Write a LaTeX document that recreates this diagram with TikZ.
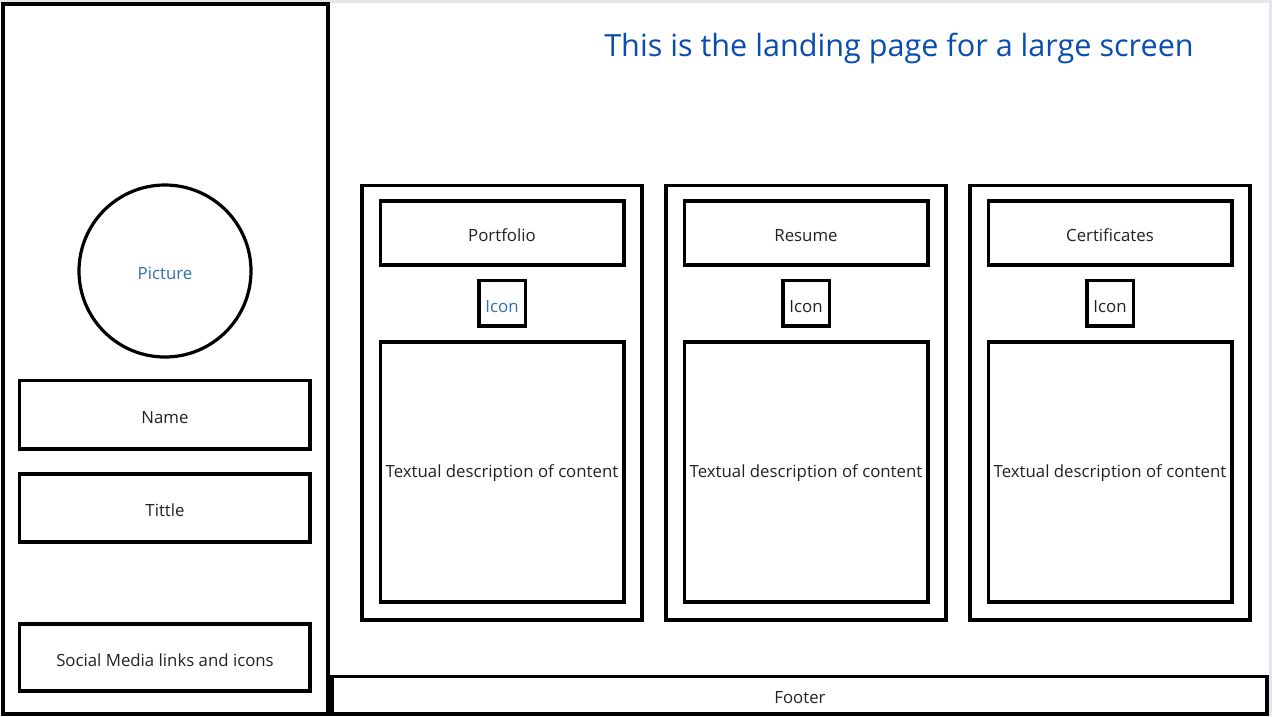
\documentclass[tikz,border=0pt]{standalone}
\usepackage{fontspec}
\setmainfont{Open Sans}
\definecolor{titleblue}{HTML}{0A4DB0}
\definecolor{labelblue}{HTML}{2F6FB5}
\definecolor{ink}{HTML}{222222}
\definecolor{frame}{HTML}{E6E6EA}
\begin{document}
\begin{tikzpicture}[x=1pt,y=-1pt,
  box/.style={draw=black,line width=3.2pt,fill=white},
  lbl/.style={font=\fontsize{16.8}{19}\selectfont,text=ink,inner sep=0pt},
  every node/.style={inner sep=0pt}]
\useasboundingbox (0,0) rectangle (1272,716);
\fill[frame] (0,0) rectangle (1272,716);
\fill[white] (0,2.5) rectangle (1268.5,716);

% sidebar
\draw[box] (3,4) rectangle (328,714);
\draw[box] (165,271) circle (86);
\node[lbl,text=labelblue] (pic) at (165,273.5) {Picture};
\draw[box] (19.5,380.5) rectangle (310,449);
\node[lbl] (name) at (165,417.5) {Name};
\draw[box] (19.5,474) rectangle (310,542);
\node[lbl] (tittle) at (165,510.5) {Tittle};
\draw[box] (19.5,624) rectangle (310,691);
\node[lbl] (social) at (165,660.5) {Social Media links and icons};

% heading
\node[font=\fontsize{30.6}{36}\selectfont,text=titleblue] (head) at (899,48) {This is the landing page for a large screen};

% three cards
\foreach \dx/\name/\icn in {0/Portfolio/labelblue,304/Resume/ink,608/Certificates/ink}{
  \begin{scope}[xshift=\dx]
    \draw[box] (362,185.5) rectangle (642,620);
    \draw[box] (380.5,201) rectangle (624,265);
    \node[lbl] at (502,235.5) {\name};
    \draw[box] (479,280.5) rectangle (525.5,326);
    \node[lbl,text=\icn] at (502,306.5) {Icon};
    \draw[box] (380.5,342) rectangle (624,602);
    \node[lbl] at (502,473.5) {Textual description of content};
  \end{scope}
}

% footer
\draw[box] (332,676.5) rectangle (1267,714);
\node[lbl] (footer) at (800,697.5) {Footer};
\end{tikzpicture}
\end{document}
